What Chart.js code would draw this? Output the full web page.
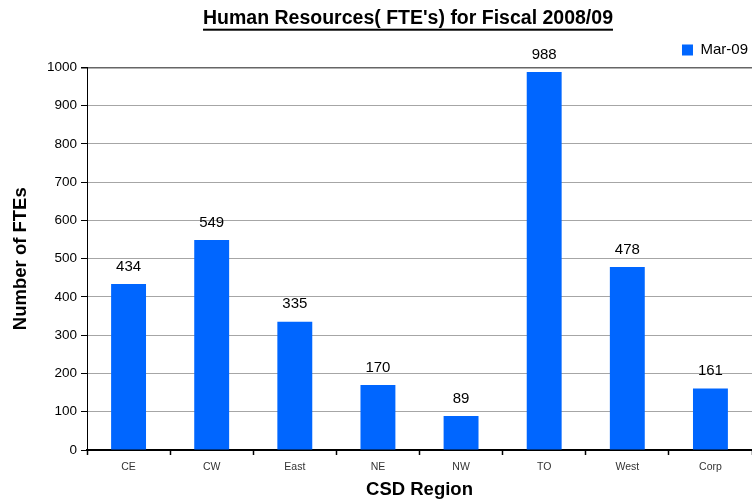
<!DOCTYPE html>
<html>
<head>
<meta charset="utf-8">
<script src="https://cdn.jsdelivr.net/npm/chart.js@4/dist/chart.umd.min.js"></script>
<style>
  html, body { margin: 0; padding: 0; background: #fff; }
  #wrap { width: 752px; height: 501px; }
</style>
</head>
<body>
<div id="wrap"><canvas id="c" width="752" height="501"></canvas></div>
<script>
const categories = ["CE", "CW", "East", "NE", "NW", "TO", "West", "Corp"];
const seriesName = "Mar-09";
const values = [434, 549, 335, 170, 89, 988, 478, 161];
const yTicks = [0, 100, 200, 300, 400, 500, 600, 700, 800, 900, 1000];
const titleText = "Human Resources( FTE's) for Fiscal 2008/09";
const xTitle = "CSD Region";
const yTitle = "Number of FTEs";

const FONT = "'Liberation Sans', Arial, Helvetica, sans-serif";
const BLUE = "#0066FF";

const titleShift = {
  id: 'titleShift',
  afterLayout(chart) {
    const t = chart.titleBlock;
    if (t) { t.left += 27; t.right += 27; }
  }
};

const underlinePlugin = {
  id: 'titleUnderline',
  afterDraw(chart) {
    const t = chart.titleBlock;
    if (!t) return;
    const ctx = chart.ctx;
    ctx.save();
    ctx.font = "bold 19.5px " + FONT;
    const w = ctx.measureText(titleText).width;
    const cx = (t.left + t.right) / 2;
    const cy = (t.top + t.bottom) / 2;
    ctx.fillStyle = "#000";
    ctx.fillRect(cx - w / 2, cy + 9.5, w, 2);
    ctx.restore();
  }
};

const valueLabels = {
  id: 'valueLabels',
  afterDatasetsDraw(chart) {
    const ctx = chart.ctx;
    ctx.save();
    ctx.font = "15px " + FONT;
    ctx.fillStyle = "#000";
    ctx.textAlign = "center";
    ctx.textBaseline = "middle";
    chart.getDatasetMeta(0).data.forEach((bar, i) => {
      ctx.fillText(String(values[i]), bar.x, bar.y - 17.5);
    });
    ctx.restore();
  }
};

new Chart(document.getElementById('c'), {
  type: 'bar',
  data: {
    labels: categories,
    datasets: [{
      label: seriesName,
      data: values,
      backgroundColor: BLUE,
      borderWidth: 0,
      barPercentage: 0.42,
      categoryPercentage: 1.0
    }]
  },
  options: {
    responsive: false,
    animation: false,
    devicePixelRatio: 1,
    layout: { padding: { left: 10, right: 0, top: 0, bottom: 0 } },
    plugins: {
      title: {
        display: true,
        text: titleText,
        color: "#000",
        font: { family: FONT, size: 19.5, weight: 'bold' },
        padding: { top: 7, bottom: 8 }
      },
      legend: {
        display: true,
        position: 'top',
        align: 'end',
        labels: {
          color: "#000",
          font: { family: FONT, size: 15 },
          boxWidth: 11,
          boxHeight: 11,
          padding: 4
        }
      },
      tooltip: { enabled: false }
    },
    scales: {
      x: {
        afterFit(scale) { scale.height = 51; },
        grid: {
          display: true,
          offset: true,
          drawOnChartArea: false,
          drawTicks: true,
          tickLength: 5,
          tickColor: "#000",
          tickWidth: 1.5
        },
        border: { display: true, color: "#000", width: 2 },
        ticks: {
          color: "#333",
          font: { family: FONT, size: 10.5 },
          padding: 6
        },
        title: {
          display: true,
          text: xTitle,
          color: "#000",
          font: { family: FONT, size: 18.5, weight: 'bold' },
          padding: { top: 4, bottom: 0 }
        }
      },
      y: {
        min: 0,
        max: 1000,
        afterFit(scale) { scale.width = 77; },
        afterBuildTicks(scale) { scale.ticks = yTicks.map(v => ({ value: v })); },
        grid: {
          color: (c) => (c.tick && c.tick.value === 1000) ? "#666" : "#a6a6a6",
          lineWidth: (c) => (c.tick && c.tick.value === 1000) ? 1.5 : 1,
          tickColor: "#000",
          tickLength: 6
        },
        border: { display: true, color: "#000", width: 1 },
        ticks: {
          color: "#000",
          font: { family: FONT, size: 13.5 },
          padding: 4,
          callback: (v) => String(v)
        },
        title: {
          display: true,
          text: yTitle,
          color: "#000",
          font: { family: FONT, size: 18.5, weight: 'bold' },
          padding: { top: 0, bottom: 4 }
        }
      }
    }
  },
  plugins: [titleShift, underlinePlugin, valueLabels]
});
</script>
</body>
</html>
